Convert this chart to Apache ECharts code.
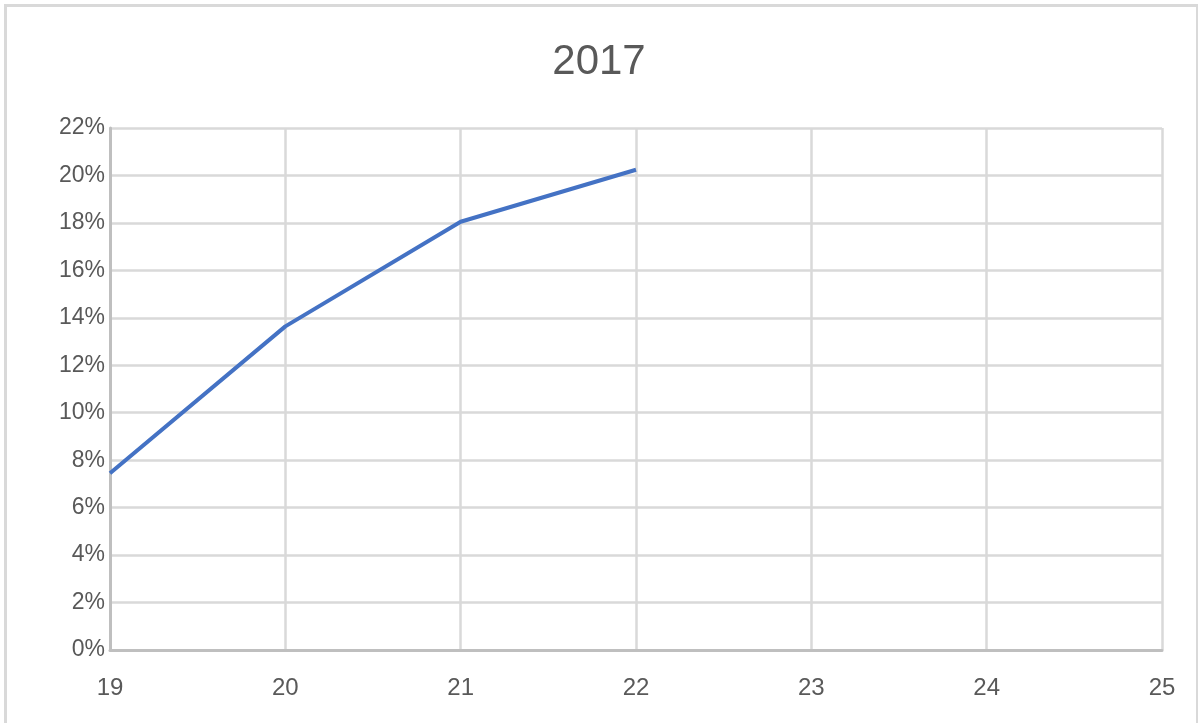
<!DOCTYPE html>
<html>
<head>
<meta charset="utf-8">
<script src="https://cdn.jsdelivr.net/npm/echarts@6/dist/echarts.min.js"></script>
<style>
html,body{margin:0;padding:0;background:#fff;}
#chart{width:1198px;height:723px;}
</style>
</head>
<body>
<div id="chart"></div>
<script>
const titleText = '2017';
const xValues = [19, 20, 21, 22];
const yValues = [0.0745, 0.1364, 0.1805, 0.2024];
const xTicks = [19, 20, 21, 22, 23, 24, 25];
const yTicks = ['0%','2%','4%','6%','8%','10%','12%','14%','16%','18%','20%','22%'];

const chart = echarts.init(document.getElementById('chart'));
const FONT = '"Liberation Sans", Arial, sans-serif';
chart.setOption({
  animation: false,
  graphic: [{
    type: 'rect', left: 3, top: 3,
    shape: { width: 1192, height: 730 },
    style: { fill: 'none', stroke: '#d9d9d9', lineWidth: 3 },
    silent: true
  }],
  title: {
    text: titleText, left: 'center', top: 36,
    textStyle: { fontFamily: FONT, fontSize: 42, fontWeight: 'normal', color: '#595959' }
  },
  grid: { left: 110, right: 36, top: 128, bottom: 73 },
  xAxis: {
    type: 'value', min: xTicks[0], max: xTicks[xTicks.length - 1], interval: 1,
    axisLine: { show: true, lineStyle: { color: '#bfbfbf', width: 3 } },
    axisTick: { show: false },
    splitLine: { show: true, lineStyle: { color: '#d9d9d9', width: 2.5 } },
    axisLabel: { fontFamily: FONT, fontSize: 24, color: '#595959', margin: 26 }
  },
  yAxis: {
    type: 'value', min: 0, max: 0.22, interval: 0.02,
    axisLine: { show: true, lineStyle: { color: '#bfbfbf', width: 3 } },
    axisTick: { show: false },
    splitLine: { show: true, lineStyle: { color: '#d9d9d9', width: 2.5 } },
    axisLabel: {
      fontFamily: FONT, fontSize: 23, color: '#595959', margin: 5,
      formatter: v => yTicks[Math.round(v / 0.02)]
    }
  },
  series: [{
    type: 'line',
    data: xValues.map((x, i) => [x, yValues[i]]),
    showSymbol: false,
    lineStyle: { color: '#4472C4', width: 4 },
    itemStyle: { color: '#4472C4' }
  }]
});
</script>
</body>
</html>
